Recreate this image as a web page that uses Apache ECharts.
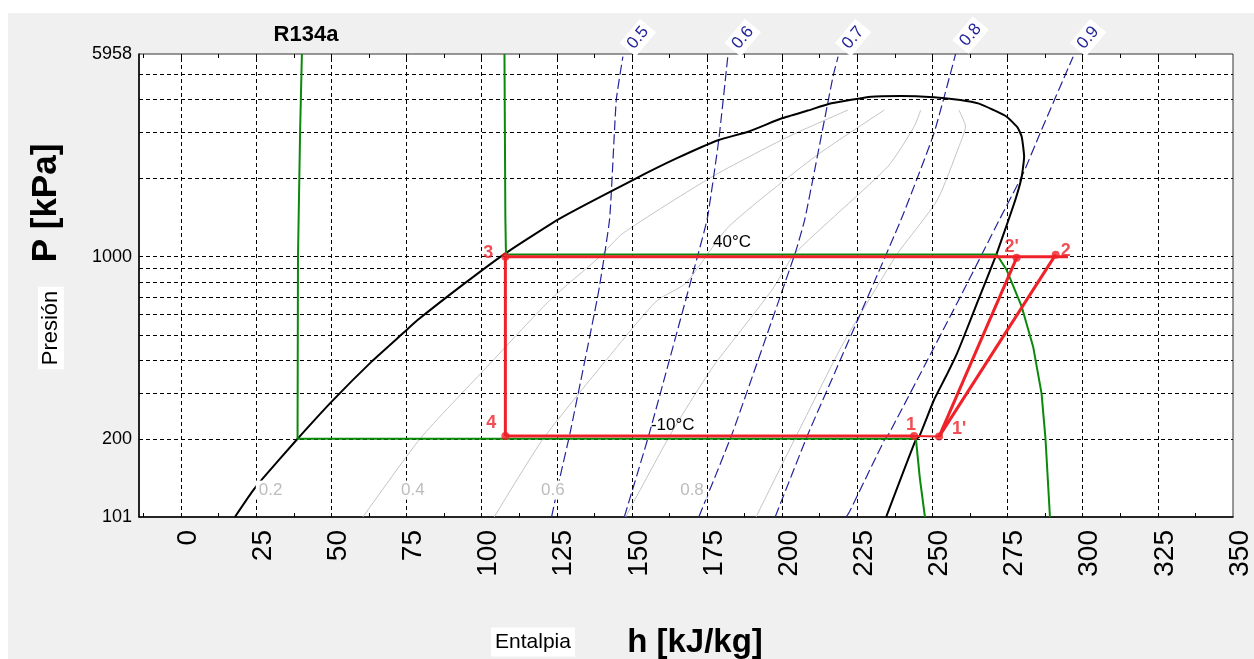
<!DOCTYPE html>
<html>
<head>
<meta charset="utf-8">
<title>R134a P-h</title>
<script src="https://cdn.jsdelivr.net/npm/echarts@6.0.0/dist/echarts.min.js"></script>
<style>
  html, body { margin: 0; padding: 0; background: #fff; }
  #panel { position: absolute; left: 8px; top: 13px; width: 1246px; height: 646px; background: #f0f0f0; }
  #chart { position: absolute; left: 0; top: 0; width: 1254px; height: 659px; }
</style>
</head>
<body>
<div id="panel"></div>
<div id="chart"></div>
<script>
// axis ranges
const hMin = -14, hMax = 350;
const pMin = 101, pMax = 5958;

// ticks and grid
const hTickLabels = [0, 25, 50, 75, 100, 125, 150, 175, 200, 225, 250, 275, 300, 325, 350];
const hMinorTicks = [-12.5, 0, 12.5, 25, 37.5, 50, 62.5, 75, 87.5, 100, 112.5, 125, 137.5, 150, 162.5,
  175, 187.5, 200, 212.5, 225, 237.5, 250, 262.5, 275, 287.5, 300, 312.5, 325, 337.5];
const hGridValues = [0, 25, 50, 75, 100, 125, 150, 175, 200, 225, 250, 275, 300, 325];
const pGridValues = [200, 300, 400, 500, 600, 700, 800, 900, 1000, 2000, 3000, 4000, 5000];
const pTickLabels = [101, 200, 1000, 5958];

// saturation dome [h, P]
const dome = [[17.9, 101], [23.6, 126], [27.2, 142], [38.4, 199], [50.1, 279], [63.3, 396], [73.8, 509],
  [78.7, 572], [94.0, 785], [107.9, 1030], [126.1, 1402], [150.3, 1964], [165.0, 2380], [178.9, 2794],
  [188.7, 3006], [199.9, 3382], [208.5, 3620], [216.4, 3859], [229.6, 4091], [239.5, 4116], [250.5, 4069],
  [259.3, 3973], [265.5, 3850], [270.3, 3638], [274.7, 3430], [278.3, 3120], [279.7, 2877], [280.5, 2412],
  [279.7, 2022], [277.8, 1680], [275.3, 1381], [271.4, 1030], [268.2, 830], [264.8, 663], [261.5, 530],
  [258.2, 427], [254.3, 345], [250.5, 283], [245.6, 205], [244.5, 200], [234.6, 101]];

// quality lines
const q02 = [[60.5, 101], [79.7, 202.4], [100.8, 368.6], [122.8, 682.8], [139.2, 996.9], [147.0, 1228.5],
  [176.7, 2022], [202.0, 2876], [221.9, 3638]];
const q04 = [[104.2, 101], [120.6, 202], [149.2, 516], [158.6, 682.8], [167.9, 791], [182.2, 1302],
  [210.9, 2412], [234.0, 3638]];
const q06 = [[147.9, 101], [162.4, 204.9], [171.2, 300], [177.8, 391], [196.6, 745], [204.3, 1030],
  [235.1, 2208], [243.9, 3141], [246.1, 3638]];
const q08 = [[191.3, 101], [219.7, 452.6], [232.9, 814], [238.4, 1030], [251.6, 1647], [258.8, 2634],
  [261.0, 3141], [258.8, 3638]];
const qualityNames = ['0.2', '0.4', '0.6', '0.8'];
const qualityLabelAnchors = [[29.8, 128], [77.1, 128], [123.7, 128], [170.0, 128]];

// isentropes (bottom -> top)
const s05 = [[123.3, 101.3], [126.1, 144], [129.4, 211], [138.8, 723], [142.6, 1401], [144.8, 3973], [147.0, 5818]];
const s06 = [[147.5, 101.3], [155.8, 211], [171.8, 1000], [175.1, 1401], [178.9, 2794], [181.9, 5818]];
const s07 = [[172.3, 101.3], [183.4, 211], [204.3, 1030], [207.6, 1401], [216.9, 4878], [218.6, 5818]];
const s08 = [[197.7, 101.3], [208.7, 211], [217.5, 360], [239.5, 1381], [250.5, 2964], [257.7, 5958]];
const s09 = [[221.4, 101.3], [222.4, 105.8], [234.0, 198.8], [235.6, 211], [259.3, 703], [272.5, 1401],
  [280.2, 2083], [285.8, 2964], [296.8, 5818]];
const entropyNames = ['0.5', '0.6', '0.7', '0.8', '0.9'];

// isotherms
const tMinus10 = [[40.2, 5958], [39.6, 3000], [38.9, 1000], [38.75, 201], [244.5, 201], [245.8, 142.3], [247.5, 101]];
const t40 = [[107.6, 5958], [107.9, 1400], [108.1, 1020], [271.4, 1020], [274.7, 889], [279.7, 643.6],
  [283.5, 452.6], [286.3, 300], [287.6, 202], [289.1, 101]];
const tempNames = ['40°C', '-10°C'];
const tempAnchors = [[183.3, 1131], [163.6, 227]];

// refrigeration cycle
const cycleNames = ['1', "1'", "2'", '2', '3', '4'];
const cycleH = [243.9, 252.2, 278.0, 291.0, 107.9, 107.9];
const cycleP = [206, 205, 990, 1018, 1000, 206];
const condenserLine = [[107.9, 1000], [295.1, 1000]];
const expansionLine = [[107.9, 1000], [107.9, 206]];
const evaporatorLine = [[107.9, 206], [243.9, 206]];
const superheatLine = [[243.9, 206], [252.2, 205]];
const compIdealLine = [[252.2, 205], [278.0, 990]];
const compRealLine = [[252.2, 205], [291.0, 1018]];

const FONT = '"Liberation Sans", Arial, sans-serif';
const RED = '#ee2228';
const BLUE = '#24249a';

function lineSeries(data, color, width, type, z, smooth) {
  return {
    type: 'line', data: data, showSymbol: false, symbol: 'none', clip: true, z: z, silent: true,
    smooth: smooth || false,
    lineStyle: { color: color, width: width, type: type }
  };
}

function textLayer(items, style, z) {
  return {
    type: 'custom', coordinateSystem: 'cartesian2d', clip: false, silent: true, z: z,
    data: items.map(d => [d.h, d.p]),
    renderItem: (params, api) => {
      const d = items[params.dataIndex];
      const pt = api.coord([api.value(0), api.value(1)]);
      return {
        type: 'text', x: pt[0] + (d.dx || 0), y: pt[1] + (d.dy || 0), rotation: d.rot || 0,
        style: Object.assign({ text: d.text, fontFamily: FONT, align: 'center', verticalAlign: 'middle' }, style)
      };
    }
  };
}

const qualityLines = [q02, q04, q06, q08];
const isentropes = [s05, s06, s07, s08, s09];

const labelOffsets = { '1': [-3, -11], "1'": [20, -8], "2'": [-5, -11], '2': [10, -4], '3': [-17, -4], '4': [-14, -13] };

const series = [];

// dashed grid
series.push({
  type: 'line', data: [], z: 1, silent: true,
  markLine: {
    silent: true, symbol: ['none', 'none'], label: { show: false }, animation: false,
    lineStyle: { color: '#000', width: 1, type: [4, 3] },
    data: hGridValues.map(v => ({ xAxis: v })).concat(pGridValues.map(v => ({ yAxis: v })))
  }
});

qualityLines.forEach(d => series.push(lineSeries(d, '#c4c4c4', 1, 'solid', 2, 0.2)));
isentropes.forEach(d => series.push(lineSeries(d, BLUE, 1.2, [10, 4], 3, 0.15)));
series.push(lineSeries(dome, '#000', 2, 'solid', 4, 0.15));
series.push(lineSeries(tMinus10, '#0a8a0a', 2, 'solid', 5));
series.push(lineSeries(t40, '#0a8a0a', 2, 'solid', 5));

[condenserLine, expansionLine, evaporatorLine, compIdealLine, compRealLine].forEach(d =>
  series.push(lineSeries(d, RED, 3, 'solid', 6)));
series.push(lineSeries(superheatLine, RED, 2, 'solid', 6));

series.push({
  type: 'scatter', z: 7, silent: true, symbol: 'circle', symbolSize: 8,
  itemStyle: { color: RED },
  data: cycleNames.map((n, i) => ({
    name: n, value: [cycleH[i], cycleP[i]],
    label: { offset: labelOffsets[n] }
  })),
  label: {
    show: true, position: 'inside', formatter: '{b}', color: RED,
    fontSize: 18, fontWeight: 'bold', fontFamily: FONT
  }
});

series.push(textLayer(
  tempNames.map((t, i) => ({ text: t, h: tempAnchors[i][0], p: tempAnchors[i][1] })),
  { fontSize: 17, fill: '#000' }, 2.5));

series.push(textLayer(
  qualityNames.map((t, i) => ({ text: t, h: qualityLabelAnchors[i][0], p: qualityLabelAnchors[i][1] })),
  { fontSize: 17, fill: '#bdbdbd', backgroundColor: '#fff', padding: [1, 3] }, 8));

series.push(textLayer(
  isentropes.map((d, i) => {
    const top = d[d.length - 1];
    return { text: entropyNames[i], h: top[0], p: top[1], dx: 15, dy: -19, rot: 50 * Math.PI / 180 };
  }),
  { fontSize: 17, fill: BLUE, backgroundColor: '#fff', padding: [2, 4] }, 8));

series.push(textLayer(
  pTickLabels.map(p => ({ text: String(p), h: hMin, p: p, dx: -7 })),
  { fontSize: 18, fill: '#000', align: 'right' }, 8));

const tickStyle = { show: true, inside: true, length: 4, customValues: hMinorTicks, lineStyle: { color: '#000', width: 1 } };

const option = {
  animation: false,
  grid: {
    left: 139, right: 13, top: 54, bottom: 142, show: true,
    backgroundColor: '#fff', borderColor: '#333', borderWidth: 1
  },
  xAxis: [
    {
      type: 'value', min: hMin, max: hMax, position: 'bottom',
      axisLine: { show: true, onZero: false, lineStyle: { color: '#000', width: 1.5 } },
      axisTick: tickStyle,
      axisLabel: {
        customValues: hTickLabels, rotate: 90, fontSize: 28, margin: 13, color: '#000',
        fontFamily: FONT, verticalAlign: 'top', lineHeight: 14
      },
      splitLine: { show: false }
    },
    {
      type: 'value', min: hMin, max: hMax, position: 'top',
      axisLine: { show: false }, axisTick: tickStyle, axisLabel: { show: false }, splitLine: { show: false }
    }
  ],
  yAxis: {
    type: 'log', logBase: 10, min: pMin, max: pMax,
    axisLine: { show: true, onZero: false, lineStyle: { color: '#000', width: 1.5 } },
    axisTick: { show: false }, axisLabel: { show: false }, splitLine: { show: false }
  },
  graphic: [
    { type: 'text', x: 306, y: 35, style: { text: 'R134a', font: 'bold 22px ' + FONT, fill: '#000', align: 'center', verticalAlign: 'middle' } },
    { type: 'text', x: 46, y: 203, rotation: Math.PI / 2, style: { text: 'P [kPa]', font: 'bold 35px ' + FONT, fill: '#000', align: 'center', verticalAlign: 'middle' } },
    { type: 'text', x: 51, y: 328, rotation: Math.PI / 2, style: { text: 'Presión', font: '22px ' + FONT, fill: '#000', align: 'center', verticalAlign: 'middle', backgroundColor: '#fff', padding: [2, 4] } },
    { type: 'text', x: 533, y: 642, style: { text: 'Entalpia', font: '21px ' + FONT, fill: '#000', align: 'center', verticalAlign: 'middle', backgroundColor: '#fff', padding: [4, 4] } },
    { type: 'text', x: 695, y: 643, style: { text: 'h [kJ/kg]', font: 'bold 33px ' + FONT, fill: '#000', align: 'center', verticalAlign: 'middle' } }
  ],
  series: series
};

const chart = echarts.init(document.getElementById('chart'));
chart.setOption(option);
</script>
</body>
</html>
